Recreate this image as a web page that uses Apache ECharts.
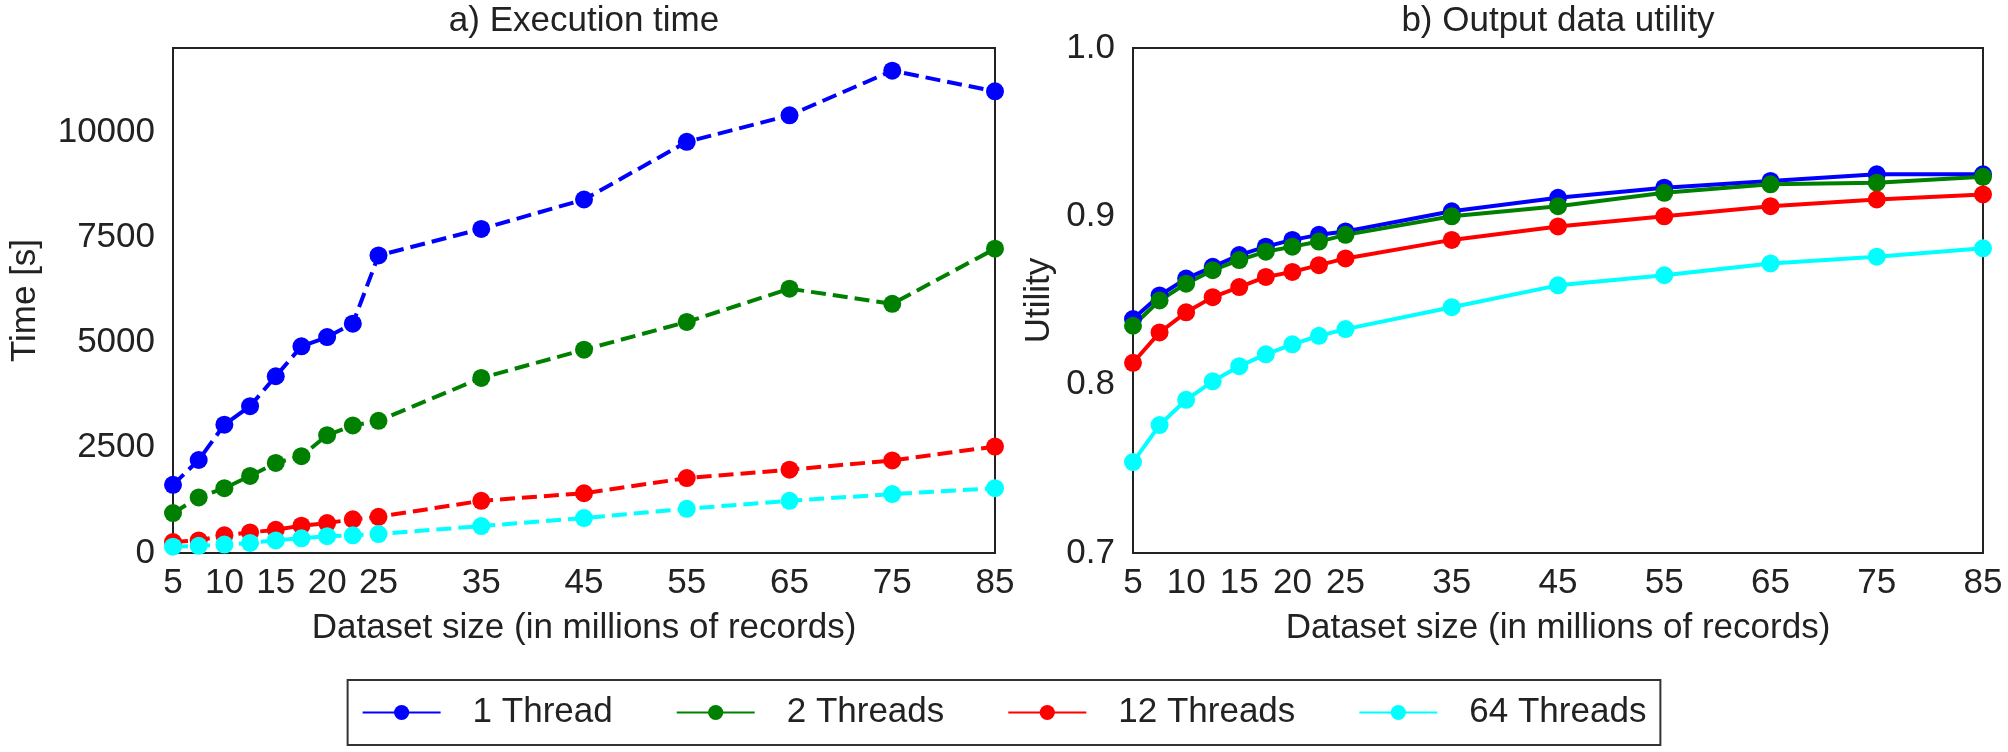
<!DOCTYPE html>
<html>
<head>
<meta charset="utf-8">
<script src="https://cdnjs.cloudflare.com/ajax/libs/echarts/6.0.0/echarts.min.js"></script>
<style>
  html, body { margin: 0; padding: 0; background: #fff; }
  #main { width: 2008px; height: 752px; }
</style>
</head>
<body>
<div id="main"></div>
<script type="text/javascript">
// dataset sizes (millions of records)
var sizes = [5, 7.5, 10, 12.5, 15, 17.5, 20, 22.5, 25, 35, 45, 55, 65, 75, 85];
var xTicks = [5, 10, 15, 20, 25, 35, 45, 55, 65, 75, 85];
var timeTicks = [0, 2500, 5000, 7500, 10000];
var utilTicks = [0.7, 0.8, 0.9, 1.0];

var names = ['1 Thread', '2 Threads', '12 Threads', '64 Threads'];
var colors = ['#0000ff', '#008000', '#ff0000', '#00ffff'];

// a) execution time [s]
var time1 = [1620, 2210, 3050, 3490, 4200, 4910, 5130, 5450, 7070, 7700, 8400, 9770, 10400, 11460, 10970];
var time2 = [950, 1320, 1540, 1830, 2140, 2300, 2800, 3030, 3140, 4160, 4830, 5490, 6280, 5920, 7230];
var time12 = [260, 300, 420, 490, 550, 650, 710, 800, 860, 1240, 1420, 1780, 1980, 2200, 2530];
var time64 = [150, 170, 200, 240, 300, 350, 400, 420, 450, 640, 830, 1050, 1240, 1400, 1540];

// b) output data utility
var util1 = [0.839, 0.853, 0.863, 0.870, 0.877, 0.882, 0.886, 0.889, 0.891, 0.903, 0.911, 0.917, 0.921, 0.925, 0.925];
var util2 = [0.835, 0.850, 0.860, 0.868, 0.874, 0.879, 0.882, 0.885, 0.889, 0.900, 0.906, 0.914, 0.919, 0.920, 0.9235];
var util12 = [0.813, 0.831, 0.843, 0.852, 0.858, 0.864, 0.867, 0.871, 0.875, 0.886, 0.894, 0.900, 0.906, 0.910, 0.913];
var util64 = [0.754, 0.776, 0.791, 0.802, 0.811, 0.818, 0.824, 0.829, 0.833, 0.846, 0.859, 0.865, 0.872, 0.876, 0.881];

var timeSets = [time1, time2, time12, time64];
var utilSets = [util1, util2, util12, util64];

var FONT = '"Liberation Sans", Arial, sans-serif';
var FS = 35;
var TXT = '#222';

function pairs(vals) {
  return sizes.map(function (s, i) { return [s, vals[i]]; });
}

function xAxisOf(idx) {
  return {
    type: 'value', gridIndex: idx, min: 5, max: 85,
    name: 'Dataset size (in millions of records)',
    nameLocation: 'middle', nameGap: 58,
    nameTextStyle: { fontFamily: FONT, fontSize: FS, color: TXT },
    axisLine: { show: false }, axisTick: { show: false }, splitLine: { show: false },
    axisLabel: { customValues: xTicks, margin: 13, fontFamily: FONT, fontSize: FS, color: TXT }
  };
}

var series = [];
// solid series first so the legend takes its icons from them
utilSets.forEach(function (v, i) {
  series.push({
    name: names[i], type: 'line', xAxisIndex: 1, yAxisIndex: 1,
    data: pairs(v), symbol: 'circle', symbolSize: 18, clip: false,
    lineStyle: { color: colors[i], width: 4 },
    itemStyle: { color: colors[i] }
  });
});
timeSets.forEach(function (v, i) {
  series.push({
    name: names[i], type: 'line', xAxisIndex: 0, yAxisIndex: 0,
    data: pairs(v), symbol: 'circle', symbolSize: 18, clip: false,
    lineStyle: { color: colors[i], width: 4, type: [15, 7] },
    itemStyle: { color: colors[i] }
  });
});

var chart = echarts.init(document.getElementById('main'));
chart.setOption({
  animation: false,
  backgroundColor: '#fff',
  title: [
    { text: 'a) Execution time', left: 584, top: 4, padding: 0, textAlign: 'center',
      textStyle: { fontFamily: FONT, fontSize: FS, fontWeight: 'normal', color: TXT } },
    { text: 'b) Output data utility', left: 1558, top: 4, padding: 0, textAlign: 'center',
      textStyle: { fontFamily: FONT, fontSize: FS, fontWeight: 'normal', color: TXT } }
  ],
  grid: [
    { left: 173, right: 1013, top: 48, bottom: 199, show: true, borderColor: '#222', borderWidth: 2, backgroundColor: '#fff' },
    { left: 1133, right: 25, top: 48, bottom: 199, show: true, borderColor: '#222', borderWidth: 2, backgroundColor: '#fff' }
  ],
  xAxis: [xAxisOf(0), xAxisOf(1)],
  yAxis: [
    {
      type: 'value', gridIndex: 0, min: 0, max: 12000,
      name: 'Time [s]', nameLocation: 'middle', nameGap: 130,
      nameTextStyle: { fontFamily: FONT, fontSize: FS, color: TXT },
      axisLine: { show: false }, axisTick: { show: false }, splitLine: { show: false },
      axisLabel: {
        customValues: timeTicks, margin: 18, fontFamily: FONT, fontSize: FS, color: TXT,
        formatter: function (v) { return String(v); }
      }
    },
    {
      type: 'value', gridIndex: 1, min: 0.7, max: 1.0,
      name: 'Utility', nameLocation: 'middle', nameGap: 76,
      nameTextStyle: { fontFamily: FONT, fontSize: FS, color: TXT },
      axisLine: { show: false }, axisTick: { show: false }, splitLine: { show: false },
      axisLabel: {
        customValues: utilTicks, margin: 18, fontFamily: FONT, fontSize: FS, color: TXT,
        formatter: function (v) { return v.toFixed(1); }
      }
    }
  ],
  legend: {
    data: names, left: 'center', top: 680,
    itemWidth: 78, itemHeight: 19, itemGap: 63,
    padding: [15, 14], borderColor: '#333', borderWidth: 2, borderRadius: 0,
    textStyle: { fontFamily: FONT, fontSize: FS, color: TXT, padding: [0, 0, 0, 27] }
  },
  series: series
});
</script>
</body>
</html>
